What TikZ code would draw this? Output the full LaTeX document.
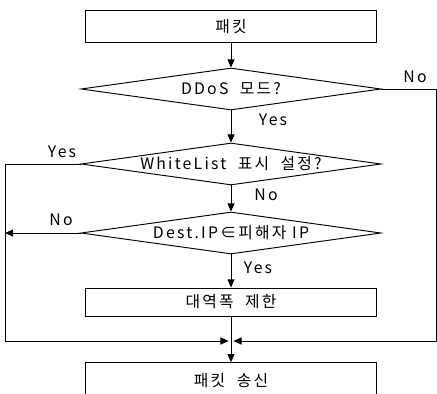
\documentclass[tikz,border=0pt]{standalone}
\usepackage{fontspec}
\setmainfont{Noto Sans CJK KR}[LetterSpace=14]
\usetikzlibrary{arrows.meta, positioning, shapes.geometric}

\begin{document}
\begin{tikzpicture}[x=0.03cm, y=-0.03cm, ->, >={Triangle[length=7pt,width=6pt]}, line width=0.8pt, node distance=2cm, font=\fontsize{13.5}{15}\selectfont]
		\tikzstyle{process}=[rectangle, draw=black, minimum width=8.73cm, minimum height=0.96cm, inner sep=0pt]
		\tikzstyle{decision}=[diamond, draw=black, minimum width=9cm, minimum height=1.26cm, aspect=7, inner sep=0pt]
		\tikzstyle{lbl}=[inner sep=0pt]
		
		\useasboundingbox (0,0) rectangle (437,394);
		
		\node[process] (pkt) at (231,26.5) {패킷};
		\node[decision] (ddos) [below of=pkt, node distance=1.875cm] {DDoS\ \ 모드?};
		\node[decision] (white) [below of=ddos, node distance=2.25cm] {WhiteList\ \ 표시\ \ 설정?};
		\node[decision] (dest) [below of=white, node distance=2.07cm] {Dest.IP∈피해자 IP};
		\node[process] (bw) [below of=dest, node distance=2.07cm, minimum height=0.84cm] {대역폭\ \ 제한};
		\node[process] (send) [below of=bw, node distance=2.37cm, minimum height=1.1cm] {패킷\ \ 송신};
		
		\coordinate (m) at (231,341);
		\coordinate (lrail) at (5,341);
		\coordinate (rrail) at (436,341);
		
		\node[lbl] (no1) at (415,77) {No};
		\node[lbl] (yes1) at (273,120) {Yes};
		\node[lbl] (yes2) at (62,152) {Yes};
		\node[lbl] (no2) at (266,195) {No};
		\node[lbl] (no3) at (61,220) {No};
		\node[lbl] (yes3) at (258,268) {Yes};
		
		\path (pkt) edge node {} (ddos)
		(ddos) edge node {} (white)
		(white) edge node {} (dest)
		(dest) edge node {} (bw)
		(m) edge node {} (send);
		
		\draw[-] (bw) -- (m);
		\draw (ddos.east) -| (rrail) -- ([xshift=2pt]m);
		\draw (white.west) -| (lrail) -- ([xshift=-2pt]m);
		\draw (dest.west) -- (dest.west -| lrail);
	\end{tikzpicture}
\end{document}
